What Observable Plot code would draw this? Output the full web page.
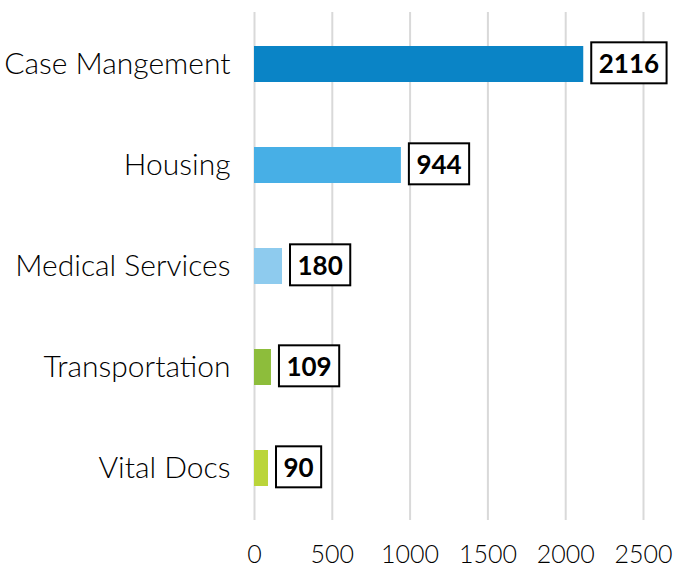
<!DOCTYPE html>
<html>
<head>
<meta charset="utf-8">
<script src="https://cdn.jsdelivr.net/npm/d3@7"></script>
<script src="https://cdn.jsdelivr.net/npm/@observablehq/plot@0.6"></script>
<style>
  html, body { margin: 0; padding: 0; background: #fff; }
  #chart svg { display: block; }
</style>
</head>
<body>
<div id="chart"></div>
<script>
const categories = ["Case Mangement", "Housing", "Medical Services", "Transportation", "Vital Docs"];
const values = [2116, 944, 180, 109, 90];
const colors = ["#0a84c6", "#47afe6", "#8ecbee", "#8dbd3b", "#bbd53a"];
const xTicks = [0, 500, 1000, 1500, 2000, 2500];

const data = categories.map((c, i) => ({category: c, value: values[i], color: colors[i]}));

const FONT = "Lato, 'Open Sans', sans-serif";

const plot = Plot.plot({
  width: 691,
  height: 568,
  marginLeft: 254,
  marginRight: 48,
  marginTop: 12,
  marginBottom: 48,
  style: {fontFamily: FONT, fontSize: "26px", color: "#000", background: "#fff", overflow: "visible"},
  x: {domain: [0, 2500], ticks: xTicks, label: null},
  y: {domain: categories, paddingInner: 0.645, paddingOuter: 0.3225, label: null},
  marks: [
    Plot.ruleX(xTicks, {stroke: "#d9d9d9", strokeWidth: 2}),
    Plot.barX(data, {x: "value", y: "category", fill: "color"}),
    Plot.text(data, {
      x: "value", y: "category", text: d => String(d.value),
      textAnchor: "start", dx: 15, fontWeight: "bold", fontSize: 26, fill: "#000",
      className: "vlabel"
    }),
    Plot.axisX({ticks: xTicks, tickSize: 0, tickPadding: 25, fontSize: 25, fontWeight: 300, fill: "#000", label: null, tickFormat: d => String(d)}),
    Plot.axisY({tickSize: 0, tickPadding: 24, fontSize: 30, fontWeight: 300, fill: "#000", label: null})
  ]
});

document.getElementById("chart").appendChild(plot);

// draw boxes around value labels, sized from the rendered text
plot.querySelectorAll("g.vlabel text").forEach(t => {
  const b = t.getBBox();
  const padX = 7.5;
  const r = document.createElementNS("http://www.w3.org/2000/svg", "rect");
  const boxH = 41;
  const cy = b.y + b.height / 2;
  r.setAttribute("x", b.x - padX);
  r.setAttribute("y", cy - boxH / 2);
  r.setAttribute("width", b.width + 2 * padX);
  r.setAttribute("height", boxH);
  r.setAttribute("fill", "#fff");
  r.setAttribute("stroke", "#000");
  r.setAttribute("stroke-width", 2);
  if (t.getAttribute("transform")) r.setAttribute("transform", t.getAttribute("transform"));
  t.parentNode.insertBefore(r, t);
});
</script>
</body>
</html>
